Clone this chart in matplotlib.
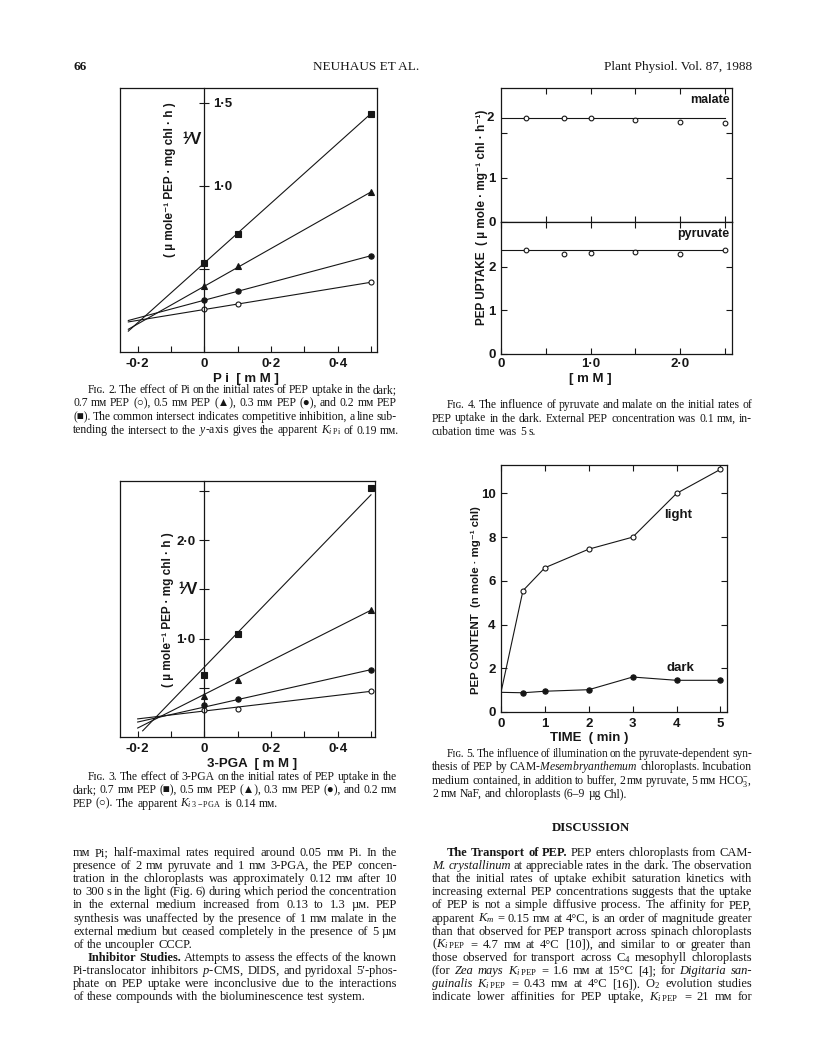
import numpy as np
import matplotlib
matplotlib.use('Agg')
import matplotlib.pyplot as plt
import matplotlib.transforms as mtrans

plt.rcParams['font.family'] = ['Liberation Sans', 'DejaVu Sans']
plt.rcParams['font.size'] = 9
plt.rcParams['mathtext.fontset'] = 'custom'
plt.rcParams['mathtext.rm'] = 'Liberation Serif'
plt.rcParams['mathtext.it'] = 'Liberation Serif:italic'
plt.rcParams['mathtext.bf'] = 'Liberation Serif:bold'
plt.rcParams['axes.linewidth'] = 0.9
plt.rcParams['xtick.major.width'] = 0.8
plt.rcParams['ytick.major.width'] = 0.8

W, H = 816, 1057
INK = '#161616'
SERIF = ['Liberation Serif', 'DejaVu Serif', 'DejaVu Sans']
SANS = ['Liberation Sans', 'DejaVu Sans']

# ---- Fig. 2 : 1/v against Pi ----
pi_mm = [0.0, 0.1, 0.5]
f2_open = [0.256, 0.292, 0.42]     # 0.7 mM PEP
f2_tri = [0.396, 0.52, 0.964]      # 0.5 mM PEP
f2_dot = [0.312, 0.366, 0.58]      # 0.3 mM PEP
f2_sq = [0.536, 0.71, 1.436]       # 0.2 mM PEP
f2_icpt = [0.256, 0.396, 0.312, 0.536]
f2_slope = [0.328, 1.136, 0.536, 1.80]
f2_start = [-0.228, -0.228, -0.228, -0.228]

# ---- Fig. 3 : 1/v against 3-PGA ----
pga_mm = [0.0, 0.1, 0.5]
f3_sq = [0.627, 1.05, 2.53]        # 0.7 mM PEP
f3_tri = [0.413, 0.583, 1.29]      # 0.5 mM PEP
f3_dot = [0.32, 0.386, 0.685]      # 0.3 mM PEP
f3_open = [0.27, 0.288, 0.464]     # 0.2 mM PEP
f3_icpt = [0.71, 0.433, 0.304, 0.264]
f3_slope = [3.5, 1.71, 0.76, 0.40]
f3_start = [-0.185, -0.2, -0.2, -0.2]

# ---- Fig. 4 : PEP uptake with malate / pyruvate ----
conc_mm = [0.28, 0.7, 1.0, 1.5, 2.0, 2.5]
malate = [2.35, 2.35, 2.35, 2.30, 2.26, 2.24]
pyruvate = [2.38, 2.29, 2.31, 2.34, 2.30, 2.38]
malate_level = 2.36
pyruvate_level = 2.38

# ---- Fig. 5 : PEP content, light vs dark ----
time_min = [0, 0.5, 1, 2, 3, 4, 5]
light = [0.9, 5.55, 6.6, 7.45, 8.0, 10.0, 11.1]
dark = [0.9, 0.88, 0.95, 1.02, 1.6, 1.45, 1.45]

# ---- page text ----
cap2 = ["Fɪɢ. 2. The effect of Pi on the initial rates of PEP uptake in the dark;",
        "0.7 mᴍ PEP (○), 0.5 mᴍ PEP (▲), 0.3 mᴍ PEP (●), and 0.2 mᴍ PEP",
        "(■). The common intersect indicates competitive inhibition, a line sub-",
        r"tending the intersect to the $y$-axis gives the apparent $K_{i\;\mathrm{Pi}}$ of 0.19 mᴍ."]
cap4 = ["Fɪɢ. 4. The influence of pyruvate and malate on the initial rates of",
        "PEP uptake in the dark. External PEP concentration was 0.1 mᴍ, in-",
        "cubation time was 5 s."]
cap3 = ["Fɪɢ. 3. The effect of 3-PGA on the initial rates of PEP uptake in the",
        "dark; 0.7 mᴍ PEP (■), 0.5 mᴍ PEP (▲), 0.3 mᴍ PEP (●), and 0.2 mᴍ",
        r"PEP (○). The apparent $K_{i\;\mathrm{3-PGA}}$ is 0.14 mᴍ."]
cap5 = ["Fɪɢ. 5. The influence of illumination on the pyruvate-dependent syn-",
        r"thesis of PEP by CAM-$\it{Mesembryanthemum}$ chloroplasts. Incubation",
        r"medium contained, in addition to buffer, 2 mᴍ pyruvate, 5 mᴍ HCO$_3^{-}$,",
        "2 mᴍ NaF, and chloroplasts (6–9 µg Chl)."]
body_a = ["mᴍ Pi; half-maximal rates required around 0.05 mᴍ Pi. In the",
          "presence of 2 mᴍ pyruvate and 1 mᴍ 3-PGA, the PEP concen-",
          "tration in the chloroplasts was approximately 0.12 mᴍ after 10",
          "to 300 s in the light (Fig. 6) during which period the concentration",
          "in the external medium increased from 0.13 to 1.3 µᴍ. PEP",
          "synthesis was unaffected by the presence of 1 mᴍ malate in the",
          "external medium but ceased completely in the presence of 5 µᴍ",
          "of the uncoupler CCCP."]
body_b = ["*Inhibitor *Studies. Attempts to assess the effects of the known",
          r"Pi-translocator inhibitors $\it{p}$-CMS, DIDS, and pyridoxal 5′-phos-",
          "phate on PEP uptake were inconclusive due to the interactions",
          "of these compounds with the bioluminescence test system."]
body_c = ["*The *Transport *of *PEP. PEP enters chloroplasts from CAM-",
          "_M. _crystallinum at appreciable rates in the dark. The observation",
          "that the initial rates of uptake exhibit saturation kinetics with",
          "increasing external PEP concentrations suggests that the uptake",
          "of PEP is not a simple diffusive process. The affinity for PEP,",
          "apparent $K_m$ = 0.15 mᴍ at 4°C, is an order of magnitude greater",
          "than that observed for PEP transport across spinach chloroplasts",
          r"($K_{i\;\mathrm{PEP}}$ = 4.7 mᴍ at 4°C [10]), and similar to or greater than",
          "those observed for transport across C$_4$ mesophyll chloroplasts",
          r"(for _Zea _mays $K_{i\;\mathrm{PEP}}$ = 1.6 mᴍ at 15°C [4]; for _Digitaria _san-",
          r"_guinalis $K_{i\;\mathrm{PEP}}$ = 0.43 mᴍ at 4°C [16]). O$_2$ evolution studies",
          r"indicate lower affinities for PEP uptake, $K_{i\;\mathrm{PEP}}$ = 21 mᴍ for"]


def px_rect(l, t, r, b):
    return [l / W, 1 - b / H, (r - l) / W, (b - t) / H]


fig = plt.figure(figsize=(W / 100, H / 100), dpi=100)
fig.patch.set_facecolor('white')
rend = fig.canvas.get_renderer()


def set_line(text, x0, x1, y, size, justify):
    words = text.split()

    def build(sz):
        objs = []
        for w in words:
            kw = dict(fontsize=sz, family=SERIF, color=INK, va='baseline',
                      ha='left', weight='normal')
            if w.startswith('*'):
                w, kw['weight'] = w[1:], 'bold'
            elif w.startswith('_'):
                w, kw['style'] = w[1:], 'italic'
            objs.append(fig.text(0, 0, w, **kw))
        return objs, [o.get_window_extent(rend).width for o in objs]

    objs, ws = build(size)
    space = size * 100 / 72 * 0.25
    avail = x1 - x0
    tight = sum(ws) + 0.55 * space * (len(ws) - 1)
    if tight > avail:
        for o in objs:
            o.remove()
        objs, ws = build(size * avail / tight)
    if justify and len(ws) > 1:
        gap = (avail - sum(ws)) / (len(ws) - 1)
    else:
        gap = space
    x = x0
    for o, w in zip(objs, ws):
        o.set_position((x / W, 1 - y / H))
        x += w + gap


def paragraph(lines, x0, x1, y0, lh, size, indent=True, last_just=False):
    y = y0
    for i, line in enumerate(lines):
        xs = x0 + (15 if (indent and i == 0) else 0)
        just = last_just or i < len(lines) - 1
        set_line(line, xs, x1, y, size, just)
        y += lh
    return y


def ptext(x, y, s, **kw):
    kw.setdefault('color', INK)
    return fig.text(x / W, 1 - y / H, s, **kw)


def zero_axis(rect, ax, ticks, labels, side):
    ov = fig.add_axes(rect, facecolor='none')
    ov.set_xlim(ax.get_xlim())
    ov.set_ylim(ax.get_ylim())
    for s in ov.spines.values():
        s.set_visible(False)
    ov.spines[side].set_visible(True)
    ov.spines[side].set_position(('data', 0))
    ov.spines[side].set_color(INK)
    ov.xaxis.set_visible(False)
    ov.yaxis.set_ticks_position(side)
    ov.set_yticks(ticks, labels, fontweight='bold', fontsize=9.5, color=INK)
    ov.tick_params(axis='y', direction='inout', length=7, pad=3, color=INK)
    return ov


def style_frame(ax):
    for s in ax.spines.values():
        s.set_color(INK)


# ---------------- Fig. 2 ----------------
r2 = px_rect(120, 88, 377, 352)
ax2 = fig.add_axes(r2)
style_frame(ax2)
ax2.set_xlim(-0.253, 0.518)
ax2.set_ylim(0, 1.59)
series2 = [(f2_open, 'o', 'white', 3.6), (f2_tri, '^', INK, 4.2),
           (f2_dot, 'o', INK, 3.8), (f2_sq, 's', INK, 4.2)]
for (ys, mk, fc, ms), a, b, xs0 in zip(series2, f2_icpt, f2_slope, f2_start):
    xl = np.array([xs0, 0.5])
    ax2.plot(xl, a + b * xl, color=INK, lw=0.8)
    ax2.plot(pi_mm, ys, ls='none', marker=mk, mfc=fc, mec=INK, ms=ms, mew=0.8)
ax2.set_xticks([-0.2, -0.1, 0, 0.1, 0.2, 0.3, 0.4, 0.5],
               ['-0·2', '', '0', '', '0·2', '', '0·4', ''],
               fontweight='bold', fontsize=9.5, color=INK)
ax2.tick_params(axis='x', direction='in', length=4, pad=4, color=INK)
ax2.set_yticks([])
zero_axis(r2, ax2, [0.5, 1.0, 1.5], ['', '1·0', '1·5'], 'right')
ptext(246, 382, 'P i  [ m M ]', ha='center', va='baseline', weight='bold', fontsize=9.5)
ptext(170, 180, '( µ mole⁻¹ PEP · mg chl · h )', rotation=90, ha='center',
      va='center', weight='bold', fontsize=8.5, family=SANS)
ptext(192, 140, '¹⁄V', ha='center', va='center', weight='bold', fontsize=12, family=SANS)

# ---------------- Fig. 3 ----------------
r3 = px_rect(120, 481, 375, 737)
ax3 = fig.add_axes(r3)
style_frame(ax3)
ax3.set_xlim(-0.253, 0.512)
ax3.set_ylim(0, 2.6)
series3 = [(f3_sq, 's', INK, 4.2), (f3_tri, '^', INK, 4.2),
           (f3_dot, 'o', INK, 3.8), (f3_open, 'o', 'white', 3.6)]
for (ys, mk, fc, ms), a, b, xs0 in zip(series3, f3_icpt, f3_slope, f3_start):
    xl = np.array([xs0, 0.5])
    ax3.plot(xl, a + b * xl, color=INK, lw=0.8)
    ax3.plot(pga_mm, ys, ls='none', marker=mk, mfc=fc, mec=INK, ms=ms, mew=0.8)
ax3.set_xticks([-0.2, -0.1, 0, 0.1, 0.2, 0.3, 0.4, 0.5],
               ['-0·2', '', '0', '', '0·2', '', '0·4', ''],
               fontweight='bold', fontsize=9.5, color=INK)
ax3.tick_params(axis='x', direction='in', length=4, pad=4, color=INK)
ax3.set_yticks([])
zero_axis(r3, ax3, [0.5, 1.0, 1.5, 2.0, 2.5], ['', '1·0', '', '2·0', ''], 'left')
ptext(252, 767, '3-PGA  [ m M ]', ha='center', va='baseline', weight='bold', fontsize=9.5)
ptext(168, 610, '( µ mole⁻¹ PEP · mg chl · h )', rotation=90, ha='center',
      va='center', weight='bold', fontsize=8.5, family=SANS)
ptext(188, 590, '¹⁄V', ha='center', va='center', weight='bold', fontsize=12, family=SANS)

# ---------------- Fig. 4 ----------------
ax4u = fig.add_axes(px_rect(501, 88, 732, 221.7))
ax4l = fig.add_axes(px_rect(501, 221.7, 732, 354))
for ax in (ax4u, ax4l):
    style_frame(ax)
    ax.set_xlim(0, 2.58)
    ax.set_ylim(0, 3.03)
    ax.tick_params(direction='in', length=4, top=True, right=True, pad=4, color=INK)
ax4l.tick_params(axis='x', pad=3)
ax4u.plot([0, 2.5], [malate_level, malate_level], color=INK, lw=0.8)
ax4u.plot(conc_mm, malate, ls='none', marker='o', mfc='white', mec=INK, ms=3.4, mew=0.8)
ax4l.plot([0, 2.5], [pyruvate_level, pyruvate_level], color=INK, lw=0.8)
ax4l.plot(conc_mm, pyruvate, ls='none', marker='o', mfc='white', mec=INK, ms=3.4, mew=0.8)
ax4u.set_xticks([0.5, 1.0, 1.5, 2.0, 2.5], [''] * 5)
ax4l.set_xticks([0, 0.5, 1.0, 1.5, 2.0, 2.5], ['0', '', '1·0', '', '2·0', ''],
                fontweight='bold', fontsize=9.5, color=INK)
ax4u.set_yticks([0, 1, 2], ['0', '1', ''], fontweight='bold', fontsize=9.5, color=INK)
ax4l.set_yticks([0, 1, 2], ['0', '1', '2'], fontweight='bold', fontsize=9.5, color=INK)
blend = mtrans.blended_transform_factory(ax4u.transAxes, ax4u.transData)
ax4u.text(-0.03, malate_level, '2', transform=blend, ha='right', va='center',
          weight='bold', fontsize=9.5, color=INK)
ax4u.text(2.55, 2.75, 'malate', ha='right', va='center', weight='bold', fontsize=9, color=INK)
ax4l.text(2.55, 2.75, 'pyruvate', ha='right', va='center', weight='bold', fontsize=9, color=INK)
ptext(590, 382, '[ m M ]', ha='center', va='baseline', weight='bold', fontsize=9.5)
ptext(482, 217, 'PEP UPTAKE  ( µ mole · mg⁻¹ chl · h⁻¹)', rotation=90, ha='center',
      va='center', weight='bold', fontsize=8.5, family=SANS)

# ---------------- Fig. 5 ----------------
ax5 = fig.add_axes(px_rect(501, 465, 727, 712))
style_frame(ax5)
ax5.set_xlim(0, 5.15)
ax5.set_ylim(0, 11.3)
ax5.plot(time_min, light, color=INK, lw=0.8, marker='o', mfc='white', mec=INK,
         ms=3.6, mew=0.8, markevery=list(range(1, len(time_min))))
ax5.plot(time_min, dark, color=INK, lw=0.8, marker='o', mfc=INK, mec=INK,
         ms=3.8, mew=0.8, markevery=list(range(1, len(time_min))))
ax5.set_xticks([0, 1, 2, 3, 4, 5], ['0', '1', '2', '3', '4', '5'],
               fontweight='bold', fontsize=9.5, color=INK)
ax5.set_yticks([0, 2, 4, 6, 8, 10], ['0', '2', '4', '6', '8', '10'],
               fontweight='bold', fontsize=9.5, color=INK)
ax5.tick_params(direction='in', length=4, top=True, right=True, pad=4, color=INK)
ax5.text(4.04, 9.0, 'light', ha='center', va='center', weight='bold', fontsize=9.5, color=INK)
ax5.text(4.09, 2.0, 'dark', ha='center', va='center', weight='bold', fontsize=9.5, color=INK)
ptext(589, 741, 'TIME  ( min )', ha='center', va='baseline', weight='bold', fontsize=9.5)
ptext(476, 600, 'PEP CONTENT  (n mole · mg⁻¹ chl)', rotation=90, ha='center',
      va='center', weight='bold', fontsize=8.2, family=SANS)

# ---------------- page text ----------------
ptext(73, 70, '66', ha='left', va='baseline', family=SERIF, weight='bold', fontsize=9.5)
ptext(366, 70, 'NEUHAUS ET AL.', ha='center', va='baseline', family=SERIF, fontsize=9.5)
ptext(752, 70, 'Plant Physiol. Vol. 87, 1988', ha='right', va='baseline',
      family=SERIF, fontsize=9.5)

paragraph(cap2, 73, 397, 393, 13.5, 8.4)
paragraph(cap4, 432, 752, 408, 13.5, 8.4)
paragraph(cap3, 73, 397, 780, 13.3, 8.4)
paragraph(cap5, 432, 752, 757, 13.3, 8.4)

y = paragraph(body_a, 73, 397, 856, 13.1, 9.0, indent=False)
paragraph(body_b, 73, 397, y, 13.1, 9.0)
ptext(591, 831, 'DISCUSSION', ha='center', va='baseline', family=SERIF,
      weight='bold', fontsize=9.2)
paragraph(body_c, 432, 752, 856, 13.1, 9.0, last_just=True)

fig.savefig('out.png', dpi=100, facecolor='white')
